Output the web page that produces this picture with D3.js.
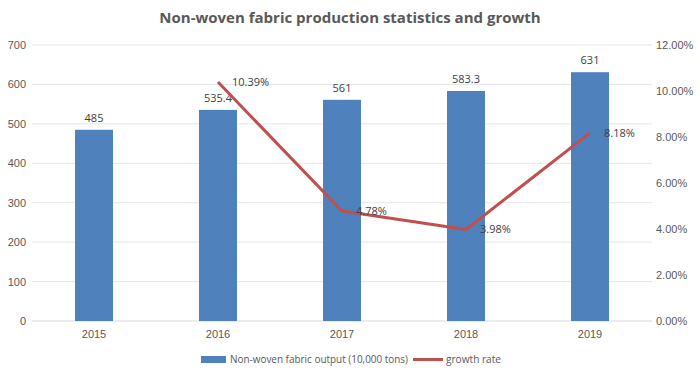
<!DOCTYPE html>
<html><head><meta charset="utf-8">
<script src="https://cdn.jsdelivr.net/npm/d3@7"></script>
<style>body{margin:0;background:#fff;}svg{display:block;font-family:"Open Sans","Noto Sans",sans-serif;}</style>
</head><body>
<svg id="c" width="700" height="380"></svg>
<script>
const categories = ["2015","2016","2017","2018","2019"];
const output = [485, 535.4, 561, 583.3, 631];
const outputLabels = ["485","535.4","561","583.3","631"];
const growth = [null, 10.39, 4.78, 3.98, 8.18];
const growthLabels = [null, "10.39%", "4.78%", "3.98%", "8.18%"];
const leftTicks = [0,100,200,300,400,500,600,700];
const rightTicks = [0,2,4,6,8,10,12];

const svg = d3.select("#c");
const L = 32, R = 652, T = 45, B = 321;
const x = d3.scaleBand().domain(categories).range([L, R]);
const yL = d3.scaleLinear().domain([0,700]).range([B, T]);
const yR = d3.scaleLinear().domain([0,12]).range([B, T]);
const txt = "#595959";

svg.append("text").attr("x", 350).attr("y", 23).attr("text-anchor","middle")
  .attr("font-size", 15).attr("font-weight","bold").attr("fill", txt)
  .text("Non-woven fabric production statistics and growth");

// gridlines
svg.append("g").selectAll("line").data(leftTicks).join("line")
  .attr("x1", L).attr("x2", R).attr("y1", d=>yL(d)).attr("y2", d=>yL(d))
  .attr("stroke", d=> d===0 ? "#d9d9d9" : "#e6e6e6").attr("stroke-width",1);

// left axis
const gl = svg.append("g").attr("transform", `translate(${L-6},0)`)
  .call(d3.axisLeft(yL).tickValues(leftTicks).tickSize(0).tickPadding(0));
gl.select(".domain").remove();
gl.selectAll("text").attr("font-size", 11).attr("fill", txt).attr("font-family","inherit");

// right axis
const gr = svg.append("g").attr("transform", `translate(${R+4},0)`)
  .call(d3.axisRight(yR).tickValues(rightTicks).tickSize(0).tickPadding(0).tickFormat(d=>d.toFixed(2)+"%"));
gr.select(".domain").remove();
gr.selectAll("text").attr("font-size", 11).attr("fill", txt).attr("font-family","inherit");

// bottom axis
const gb = svg.append("g").attr("transform", `translate(0,${B})`)
  .call(d3.axisBottom(x).tickSize(0).tickPadding(9));
gb.select(".domain").remove();
gb.selectAll("text").attr("font-size", 11).attr("fill", txt).attr("font-family","inherit");

// bars
const bw = 38;
svg.append("g").selectAll("rect").data(output).join("rect")
  .attr("x", (d,i)=> x(categories[i]) + x.bandwidth()/2 - bw/2)
  .attr("y", d=> yL(d)).attr("width", bw).attr("height", d=> B - yL(d))
  .attr("fill", "#4F81BD");

svg.append("g").selectAll("text").data(output).join("text")
  .attr("x", (d,i)=> x(categories[i]) + x.bandwidth()/2)
  .attr("y", d=> yL(d) - 8).attr("text-anchor","middle")
  .attr("font-size", 11).attr("fill", "#404040")
  .text((d,i)=> outputLabels[i]);

// line
const pts = growth.map((g,i)=> g==null ? null : [x(categories[i]) + x.bandwidth()/2, yR(g), i]).filter(p=>p);
svg.append("path").datum(pts)
  .attr("d", d3.line().x(d=>d[0]).y(d=>d[1]))
  .attr("fill","none").attr("stroke","#C0504D").attr("stroke-width",3).attr("stroke-linejoin","round");

svg.append("g").selectAll("text").data(pts).join("text")
  .attr("x", d=> d[0] + 14).attr("y", d=> d[1] + 4)
  .attr("font-size", 11).attr("fill", "#404040")
  .text(d=> growthLabels[d[2]]);

// legend
const lg = svg.append("g");
lg.append("rect").attr("x", 201).attr("y", 356).attr("width", 25).attr("height", 7).attr("fill","#4F81BD");
lg.append("text").attr("x", 230).attr("y", 363).attr("font-size", 11).attr("fill", txt)
  .attr("textLength", 178).attr("lengthAdjust","spacingAndGlyphs")
  .text("Non-woven fabric output (10,000 tons)");
lg.append("line").attr("x1", 413).attr("x2", 443).attr("y1", 359.5).attr("y2", 359.5)
  .attr("stroke","#C0504D").attr("stroke-width",3);
lg.append("text").attr("x", 446).attr("y", 363).attr("font-size", 11).attr("fill", txt)
  .attr("textLength", 55).attr("lengthAdjust","spacingAndGlyphs")
  .text("growth rate");
</script>
</body></html>
